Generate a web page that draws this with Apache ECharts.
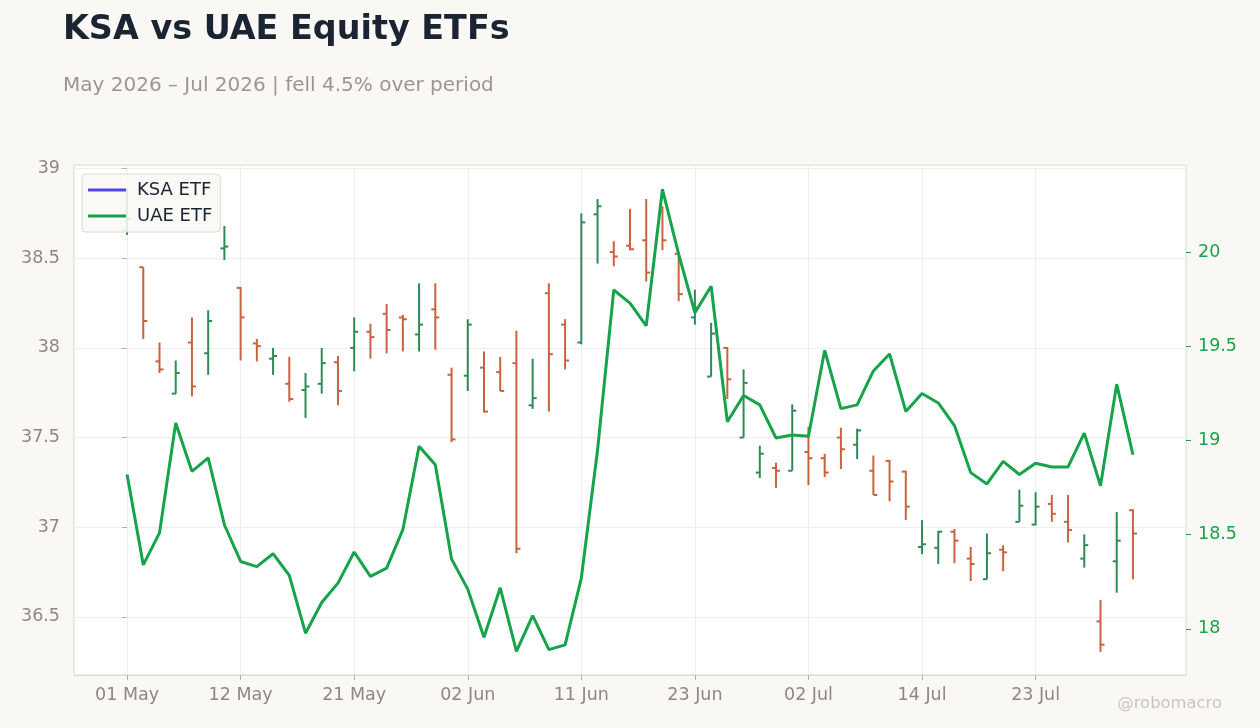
<!DOCTYPE html>
<html>
<head>
<meta charset="utf-8">
<script src="https://cdn.jsdelivr.net/npm/echarts@6/dist/echarts.min.js"></script>
<style>
  html, body { margin: 0; padding: 0; background: #f9f8f5; }
  #main { width: 1260px; height: 728px; }
</style>
</head>
<body>
<div id="main"></div>
<script>
// trading days, May - Jul 2026
var dates = [
  '2026-05-01','2026-05-04','2026-05-05','2026-05-06','2026-05-07','2026-05-08',
  '2026-05-11','2026-05-12','2026-05-13','2026-05-14','2026-05-15',
  '2026-05-18','2026-05-19','2026-05-20','2026-05-21','2026-05-22',
  '2026-05-26','2026-05-27','2026-05-28','2026-05-29',
  '2026-06-01','2026-06-02','2026-06-03','2026-06-04','2026-06-05',
  '2026-06-08','2026-06-09','2026-06-10','2026-06-11','2026-06-12',
  '2026-06-15','2026-06-16','2026-06-17','2026-06-18',
  '2026-06-22','2026-06-23','2026-06-24','2026-06-25','2026-06-26',
  '2026-06-29','2026-06-30','2026-07-01','2026-07-02',
  '2026-07-06','2026-07-07','2026-07-08','2026-07-09','2026-07-10',
  '2026-07-13','2026-07-14','2026-07-15','2026-07-16','2026-07-17',
  '2026-07-20','2026-07-21','2026-07-22','2026-07-23','2026-07-24',
  '2026-07-27','2026-07-28','2026-07-29','2026-07-30','2026-07-31'
];

var ksaOpen = [
  38.66, 38.45, 37.925, 37.745, 38.03, 37.97, 38.555, 38.335, 38.025, 37.94,
  37.80, 37.765, 37.80, 37.92, 38.0, 38.09, 38.19, 38.17, 38.075, 38.215,
  37.85, 37.845, 37.89, 37.865, 37.915, 37.68, 38.305, 38.13, 38.03, 38.745,
  38.535, 38.57, 38.60, 38.76, 38.525, 38.17, 37.84, 38.0, 37.50, 37.305,
  37.33, 37.315, 37.42, 37.385, 37.50, 37.46, 37.315, 37.37, 37.31, 36.89,
  36.885, 36.975, 36.825, 36.71, 36.875, 37.03, 37.015, 37.13, 37.03, 36.825,
  36.475, 36.81, 37.095
];
var ksaHigh = [
  38.89, 38.45, 38.03, 37.93, 38.17, 38.21, 38.68, 38.34, 38.05, 38.0,
  37.95, 37.86, 38.0, 37.955, 38.17, 38.135, 38.245, 38.185, 38.36, 38.36,
  37.89, 38.16, 37.98, 37.95, 38.095, 37.94, 38.36, 38.16, 38.75, 38.83,
  38.595, 38.775, 38.83, 38.79, 38.53, 38.325, 38.14, 38.005, 37.88, 37.455,
  37.36, 37.685, 37.56, 37.41, 37.555, 37.55, 37.40, 37.375, 37.315, 37.04,
  36.98, 36.99, 36.89, 36.965, 36.90, 37.21, 37.195, 37.18, 37.18, 36.96,
  36.595, 37.085, 37.10
];
var ksaLow = [
  38.63, 38.05, 37.86, 37.745, 37.73, 37.85, 38.49, 37.93, 37.925, 37.85,
  37.70, 37.61, 37.745, 37.68, 37.87, 37.94, 37.97, 37.98, 37.98, 37.99,
  37.475, 37.76, 37.64, 37.76, 36.855, 37.66, 37.645, 37.88, 38.02, 38.47,
  38.455, 38.545, 38.37, 38.545, 38.26, 38.13, 37.84, 37.715, 37.50, 37.275,
  37.22, 37.315, 37.235, 37.28, 37.325, 37.38, 37.18, 37.145, 37.04, 36.85,
  36.795, 36.80, 36.70, 36.71, 36.755, 37.03, 37.01, 37.03, 36.915, 36.775,
  36.305, 36.635, 36.71
];
var ksaClose = [
  38.72, 38.15, 37.88, 37.86, 37.785, 38.15, 38.565, 38.17, 38.01, 37.955,
  37.715, 37.785, 37.915, 37.76, 38.09, 38.06, 38.10, 38.16, 38.13, 38.17,
  37.49, 38.13, 37.645, 37.76, 36.88, 37.72, 37.965, 37.93, 38.70, 38.79,
  38.51, 38.55, 38.42, 38.60, 38.30, 38.225, 38.08, 37.825, 37.805, 37.41,
  37.315, 37.65, 37.385, 37.305, 37.435, 37.54, 37.18, 37.255, 37.115, 36.905,
  36.975, 36.925, 36.795, 36.855, 36.86, 37.12, 37.115, 37.075, 36.985, 36.90,
  36.345, 36.925, 36.965
];
var uaeClose = [
  18.82, 18.34, 18.51, 19.094, 18.837, 18.908, 18.553, 18.358, 18.331, 18.399,
  18.284, 17.977, 18.14, 18.243, 18.408, 18.279, 18.323, 18.527, 18.97, 18.872,
  18.371, 18.211, 17.956, 18.218, 17.88, 18.07, 17.89, 17.915, 18.27, 18.95,
  19.80, 19.73, 19.61, 20.335, 19.99, 19.68, 19.82, 19.10, 19.24, 19.19,
  19.014, 19.03, 19.023, 19.48, 19.17, 19.19, 19.37, 19.46, 19.155, 19.25,
  19.20, 19.08, 18.83, 18.77, 18.89, 18.82, 18.88, 18.86, 18.86, 19.04,
  18.76, 19.30, 18.925
];

var xTicks = [0, 7, 14, 21, 28, 35, 42, 49, 56];
var leftTicks = [36.5, 37, 37.5, 38, 38.5, 39];
var rightTicks = [18, 18.5, 19, 19.5, 20];

var months = ['Jan','Feb','Mar','Apr','May','Jun','Jul','Aug','Sep','Oct','Nov','Dec'];
function dateLabel(i) {
  var d = dates[Math.round(i)];
  if (!d) return '';
  var p = d.split('-');
  return p[2] + ' ' + months[parseInt(p[1], 10) - 1];
}

var UP = '#2e8b57', DOWN = '#c9623f', UAE = '#16a34a', KSA = '#4f46e5';
var FONT = 'DejaVu Sans';

var ohlcData = dates.map(function(d, i) {
  return [i, ksaOpen[i], ksaHigh[i], ksaLow[i], ksaClose[i]];
});
var uaeData = dates.map(function(d, i) { return [i, uaeClose[i]]; });

function renderOhlc(params, api) {
  var x = api.value(0);
  var o = api.coord([x, api.value(1)]);
  var h = api.coord([x, api.value(2)]);
  var l = api.coord([x, api.value(3)]);
  var c = api.coord([x, api.value(4)]);
  var col = api.value(4) >= api.value(1) ? UP : DOWN;
  var st = { stroke: col, lineWidth: 2 };
  return {
    type: 'group',
    children: [
      { type: 'line', shape: { x1: h[0], y1: h[1], x2: l[0], y2: l[1] }, style: st },
      { type: 'line', shape: { x1: o[0] - 4, y1: o[1], x2: o[0], y2: o[1] }, style: st },
      { type: 'line', shape: { x1: c[0], y1: c[1], x2: c[0] + 4, y2: c[1] }, style: st }
    ]
  };
}

var myChart = echarts.init(document.getElementById('main'));

var option = {
  backgroundColor: '#f9f8f5',
  animation: false,
  textStyle: { fontFamily: FONT },
  title: [{
    text: 'KSA vs UAE Equity ETFs',
    left: 58, top: 9,
    textStyle: { fontFamily: FONT, fontSize: 33.4, fontWeight: 'bold', color: '#1b2433' }
  }, {
    text: 'May 2026 – Jul 2026 | fell 4.5% over period',
    left: 58, top: 71,
    textStyle: { fontFamily: FONT, fontSize: 20, fontWeight: 'normal', color: '#9a9693' }
  }],
  legend: {
    orient: 'vertical',
    left: 82, top: 174,
    padding: [7, 8, 7, 6],
    itemGap: 8,
    itemWidth: 38,
    itemHeight: 3,
    icon: 'rect',
    backgroundColor: 'rgba(249,248,245,0.88)',
    borderColor: '#dcd8d2',
    borderWidth: 1,
    borderRadius: 4,
    textStyle: { fontFamily: FONT, fontSize: 18, color: '#1b2433', padding: [0, 0, 0, 6] },
    data: ['KSA ETF', 'UAE ETF']
  },
  grid: {
    left: 74, right: 74, top: 165, bottom: 53,
    show: true, backgroundColor: '#ffffff', borderColor: '#dcd8d2', borderWidth: 1
  },
  xAxis: {
    type: 'value',
    min: -3.27, max: 65.27,
    axisLine: { lineStyle: { color: '#dcd8d2' } },
    axisTick: { show: true, length: 5, customValues: xTicks, lineStyle: { color: '#b5b1ab' } },
    axisLabel: {
      customValues: xTicks, formatter: dateLabel,
      color: '#8c8884', fontSize: 17.5, fontFamily: FONT, margin: 11
    },
    splitLine: { show: true, lineStyle: { color: '#eeeeee', width: 1 } }
  },
  yAxis: [{
    type: 'value',
    min: 36.176, max: 39.02,
    position: 'left',
    axisLine: { show: false },
    axisTick: { show: true, length: 5, customValues: leftTicks, lineStyle: { color: '#b5b1ab' } },
    axisLabel: { customValues: leftTicks, color: '#8c8884', fontSize: 17.5, fontFamily: FONT, margin: 14 },
    splitLine: { show: true, lineStyle: { color: '#eeeeee', width: 1 } }
  }, {
    type: 'value',
    min: 17.755, max: 20.464,
    position: 'right',
    axisLine: { show: false },
    axisTick: { show: true, length: 5, customValues: rightTicks, lineStyle: { color: UAE } },
    axisLabel: { customValues: rightTicks, color: UAE, fontSize: 17.5, fontFamily: FONT, margin: 12 },
    splitLine: { show: false }
  }],
  series: [{
    name: 'KSA ETF',
    type: 'custom',
    yAxisIndex: 0,
    itemStyle: { color: KSA },
    renderItem: renderOhlc,
    encode: { x: 0, y: [1, 2, 3, 4] },
    data: ohlcData,
    z: 2
  }, {
    name: 'UAE ETF',
    type: 'line',
    yAxisIndex: 1,
    showSymbol: false,
    symbol: 'none',
    lineStyle: { color: UAE, width: 3 },
    itemStyle: { color: UAE },
    data: uaeData,
    z: 3
  }],
  graphic: [{
    type: 'text',
    right: 38, top: 696,
    style: { text: '@robomacro', fontFamily: FONT, fontSize: 16.4, fill: '#c9c6c1' }
  }]
};

myChart.setOption(option);
</script>
</body>
</html>
